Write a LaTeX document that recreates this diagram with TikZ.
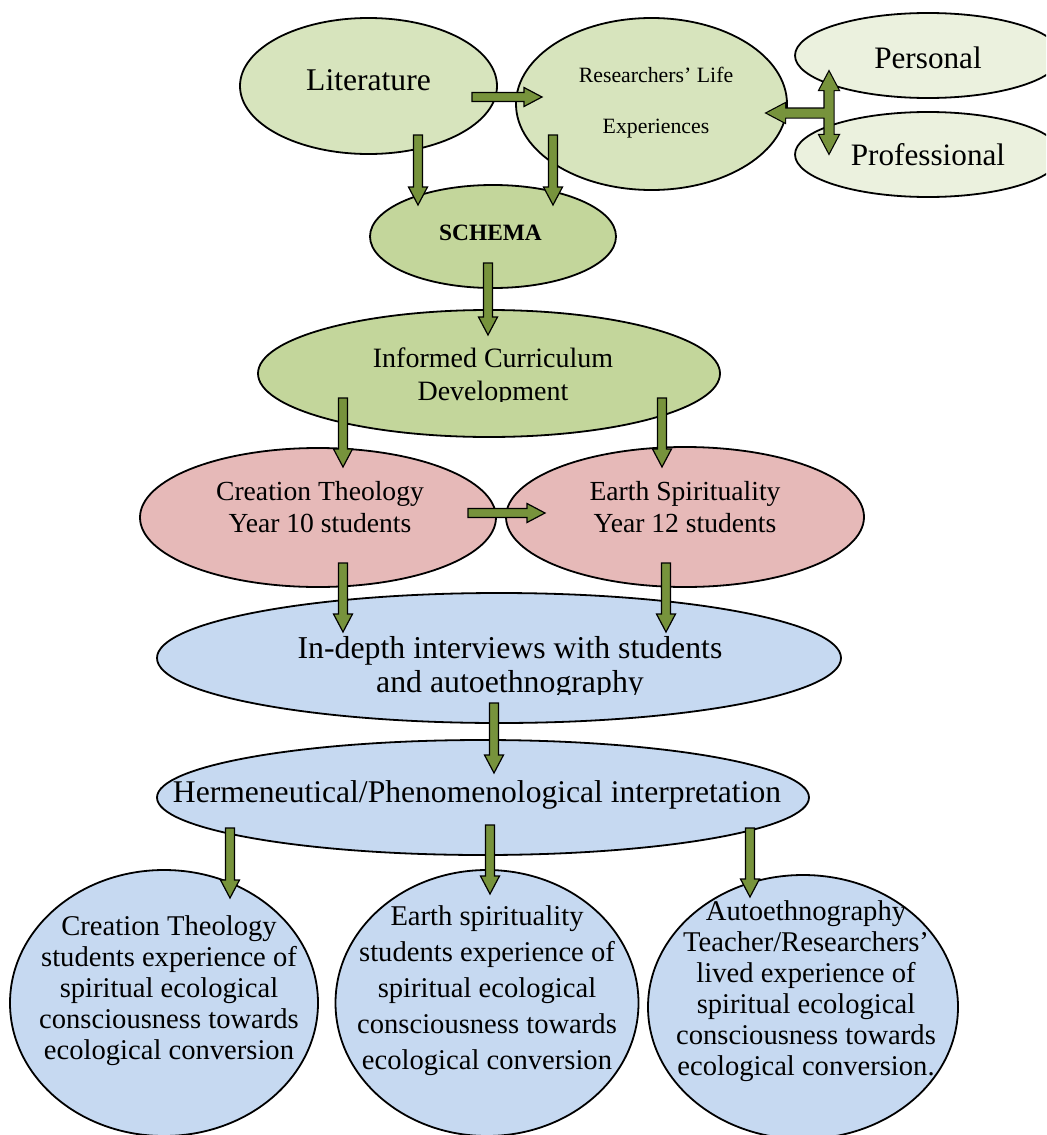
\documentclass[tikz,border=0pt]{standalone}
\usepackage{fontspec}
\setmainfont{Liberation Serif}
\usetikzlibrary{shapes.geometric,calc}

\definecolor{litgreen}{HTML}{D7E4BD}
\definecolor{schgreen}{HTML}{C3D69B}
\definecolor{palegreen}{HTML}{EBF1DE}
\definecolor{pinkfill}{HTML}{E6B9B8}
\definecolor{bluefill}{HTML}{C6D9F1}
\definecolor{arrowgreen}{HTML}{77933C}

\newcommand{\fs}[2]{\fontsize{#1}{#2}\selectfont}
\newcommand{\rows}[1]{\begin{tabular}{@{}c@{}}#1\end{tabular}}

\tikzset{
  blob/.style={ellipse, draw=black, line width=0.9pt, inner sep=0pt},
  txt/.style={inner sep=0pt},
  fatpath/.style={to path={let \p1=(\tikztostart), \p2=(\tikztotarget),
      \p3=($(\p2)!9pt!(\p1)$) in
      ($(\p1)!2.25pt!90:(\p2)$) -- ($(\p3)!2.25pt!90:(\p2)$)
      -- ($(\p3)!4.75pt!90:(\p2)$) -- (\p2)
      -- ($(\p3)!4.75pt!-90:(\p2)$) -- ($(\p3)!2.25pt!-90:(\p2)$)
      -- ($(\p1)!2.25pt!-90:(\p2)$) -- cycle}},
  fat/.style={fatpath, draw=black, line width=0.6pt, fill=arrowgreen},
}

\begin{document}
\begin{tikzpicture}[x=0.5pt, y=-0.5pt]
  \clip (0,0) rectangle (1046,1135);

  % ellipses
  \node[blob, fill=litgreen, minimum width=128.5pt, minimum height=68pt] (lit) at (368.5,86) {};
  \node[blob, fill=litgreen, minimum width=135.5pt, minimum height=86pt] (res) at (651.5,104) {};
  \node[blob, fill=palegreen, minimum width=133pt, minimum height=42.5pt] (pers) at (928,55.5) {};
  \node[blob, fill=palegreen, minimum width=133pt, minimum height=42.5pt] (prof) at (928,154.5) {};
  \node[blob, fill=schgreen, minimum width=123pt, minimum height=51.5pt] (schema) at (493,236.5) {};
  \node[blob, fill=schgreen, minimum width=231pt, minimum height=63.5pt] (inf) at (489,373.5) {};
  \node[blob, fill=pinkfill, minimum width=178pt, minimum height=69.5pt] (ct) at (318,517.5) {};
  \node[blob, fill=pinkfill, minimum width=179pt, minimum height=70pt] (es) at (685,517) {};
  \node[blob, fill=bluefill, minimum width=342pt, minimum height=65pt] (ind) at (499,658) {};
  \node[blob, fill=bluefill, minimum width=326pt, minimum height=57.5pt] (herm) at (483,797.5) {};
  \node[blob, fill=bluefill, minimum width=154pt, minimum height=133pt] (b1) at (164,1003) {};
  \node[blob, fill=bluefill, minimum width=151.5pt, minimum height=133pt] (b2) at (487,1003) {};
  \node[blob, fill=bluefill, minimum width=155pt, minimum height=132pt] (b3) at (803,1007) {};

  % texts
  \node[txt, font=\fs{15.8}{19}] (litT) at (368.5,82.4) {\rows{Literature}};
  \node[txt, font=\fs{10.9}{25.5}] (resT) at (656,97.3) {\rows{Researchers’ Life\\Experiences}};
  \node[txt, font=\fs{15.6}{19}] (persT) at (928,60.4) {\rows{Personal}};
  \node[txt, font=\fs{15.6}{19}] (profT) at (928,157.4) {\rows{Professional}};
  \node[txt, font=\fs{11.7}{14}\bfseries] (schT) at (490.5,234.4) {\rows{SCHEMA}};
  \begin{scope}
    \clip (300,330) rectangle (700,401.5);
    \node[txt, font=\fs{14}{16.5}] (infT) at (493,376.9) {\rows{Informed Curriculum\\Development}};
  \end{scope}
  \node[txt, font=\fs{13.8}{16}] (ctT) at (320,509.6) {\rows{Creation Theology\\Year 10 students}};
  \node[txt, font=\fs{13.8}{16}] (esT) at (685,509.6) {\rows{Earth Spirituality\\Year 12 students}};
  \begin{scope}
    \clip (250,620) rectangle (800,694);
    \node[txt, font=\fs{15.9}{17}] (indT) at (510,668.2) {\rows{In-depth interviews with students\\and autoethnography}};
  \end{scope}
  \node[txt, font=\fs{15.8}{19}] (herT) at (477,794.4) {\rows{Hermeneutical/Phenomenological interpretation}};
  \node[txt, font=\fs{14.3}{15.4}] (b1T) at (169,991.4) {\rows{Creation Theology\\students experience of\\spiritual ecological\\consciousness towards\\ecological conversion}};
  \node[txt, font=\fs{14.3}{18}] (b2T) at (487,989.8) {\rows{Earth spirituality\\students experience of\\spiritual ecological\\consciousness towards\\ecological conversion}};
  \node[txt, font=\fs{14.3}{15.5}] (b3T) at (806,991.3) {\rows{Autoethnography\\Teacher/Researchers’\\lived experience of\\spiritual ecological\\consciousness towards\\ecological conversion.}};

  % block arrows
  \draw[fat] ($(lit)+(103.5,11)$) to ($(res)+(-109.5,-7)$);
  \draw[fat] ($(lit)+(49.5,49)$) to ($(schema)+(-75,-31.5)$);
  \draw[fat] ($(res)+(-98.5,31)$) to ($(schema)+(60,-31.5)$);
  \draw[fat] ($(schema)+(-5,26.5)$) to ($(inf)+(-1,-38.5)$);
  \draw[fat] ($(inf)+(-146,24.5)$) to ($(ct)+(25,-50.5)$);
  \draw[fat] ($(inf)+(173,24.5)$) to ($(es)+(-23,-50)$);
  \draw[fat] ($(ct)+(150,-4.5)$) to ($(es)+(-140,-4)$);
  \draw[fat] ($(ct)+(25,45.5)$) to ($(ind)+(-156,-26)$);
  \draw[fat] ($(es)+(-19,46)$) to ($(ind)+(167,-26)$);
  \draw[fat] ($(ind)+(-5,45)$) to ($(herm)+(11,-24.5)$);
  \draw[fat] ($(herm)+(-253,30.5)$) to ($(b1)+(66,-105)$);
  \draw[fat] ($(herm)+(7,27.5)$) to ($(b2)+(3,-109)$);
  \draw[fat] ($(herm)+(267,30.5)$) to ($(b3)+(-53,-110)$);

  % fork between Personal, Professional and the life experiences
  \coordinate (fork) at ($(pers)+(-99,57.5)$);
  \path[fatpath, draw=black, line width=1.2pt]
    (fork) to ($(pers)+(-99,16.5)$) (fork) to ($(prof)+(-99,-1.5)$) (fork) to ($(res)+(115.5,9)$);
  \path[fatpath, fill=arrowgreen]
    (fork) to ($(pers)+(-99,16.5)$) (fork) to ($(prof)+(-99,-1.5)$) (fork) to ($(res)+(115.5,9)$);
\end{tikzpicture}
\end{document}
